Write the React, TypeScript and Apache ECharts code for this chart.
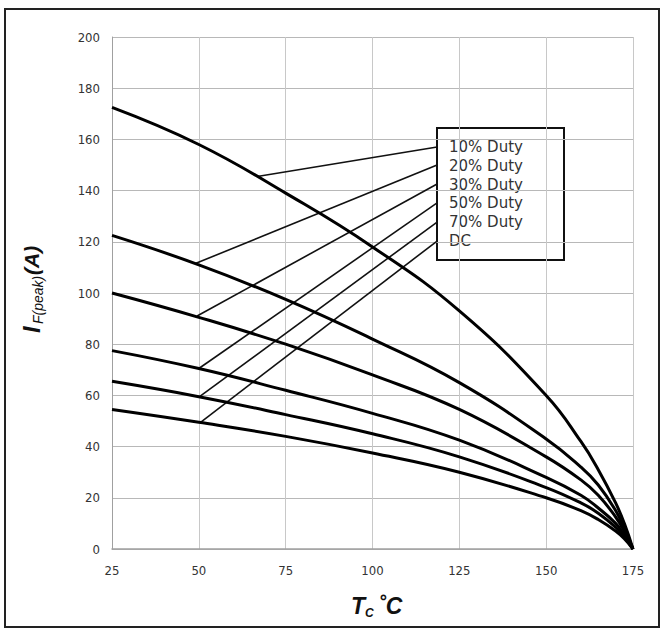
import React, { useEffect, useRef } from "react";
import * as echarts from "echarts";

const temps = [25, 50, 75, 100, 125, 150, 160, 165, 170, 172.5, 175];
const duty10 = [172.5, 158, 139, 118, 93, 60, 42, 31, 18, 10, 0];
const duty20 = [122.5, 111, 97.5, 82, 65, 43, 32, 25, 15, 8, 0];
const duty30 = [100, 90.5, 80, 68, 54.5, 36, 27, 21, 12.5, 7, 0];
const duty50 = [77.5, 70.5, 62, 53, 42.5, 28, 21, 16, 10, 5.5, 0];
const duty70 = [65.5, 59.5, 52.5, 45, 36, 24, 18, 14, 8.5, 4.8, 0];
const dutyDC = [54.5, 49.5, 44, 37.5, 30, 20, 15, 11.5, 7, 4, 0];

const seriesNames = ["10% Duty", "20% Duty", "30% Duty", "50% Duty", "70% Duty", "DC"];
const seriesData = [duty10, duty20, duty30, duty50, duty70, dutyDC];

// leader lines: start on each curve (T, I), end at legend rows (T, I)
const leaderStartT = [66.8, 49, 49.5, 50, 50.2, 50.5];
const leaderStartI = [145.5, 111.5, 91, 70.5, 59.5, 49.5];
const leaderEndT = [118.6, 118.6, 118.6, 118.6, 118.6, 118.6];
const leaderEndI = [157, 150, 142.6, 135.2, 127.7, 120.3];

const xTicks = [25, 50, 75, 100, 125, 150, 175];
const yTicks = [0, 20, 40, 60, 80, 100, 120, 140, 160, 180, 200];

export default function App() {
  const ref = useRef<HTMLDivElement>(null);
  useEffect(() => {
    if (!ref.current) return;
    const chart = echarts.init(ref.current, undefined, { renderer: "svg" });
    const labelFont = "'Liberation Sans Narrow', 'DejaVu Sans Condensed', 'Roboto', sans-serif";
    const curves = seriesData.map((d, i) => ({
      name: seriesNames[i],
      type: "line",
      data: temps.map((t, j) => [t, d[j]]),
      smooth: 0.45,
      showSymbol: false,
      symbol: "none",
      lineStyle: { color: "#000", width: 3 },
      z: 3,
    }));
    const leaders = seriesNames.map((n, i) => ({
      name: n + " leader",
      type: "line",
      data: [
        [leaderStartT[i], leaderStartI[i]],
        [leaderEndT[i], leaderEndI[i]],
      ],
      showSymbol: false,
      symbol: "none",
      lineStyle: { color: "#111", width: 1.6 },
      z: 2,
    }));
    chart.setOption({
      animation: false,
      backgroundColor: "#fff",
      grid: { left: 112, right: 30, top: 37, bottom: 81 },
      xAxis: {
        type: "value",
        min: 25,
        max: 175,
        interval: 25,
        axisLine: { show: true, onZero: false, lineStyle: { color: "#a0a0a0", width: 1.5 } },
        axisTick: { show: false },
        splitLine: { show: true, lineStyle: { color: "#c8c8c8", width: 1 } },
        axisLabel: {
          color: "#333",
          fontSize: 13,
          fontFamily: labelFont,
          margin: 15,
          formatter: (v: number) => (xTicks.includes(v) ? String(v) : ""),
        },
      },
      yAxis: {
        type: "value",
        min: 0,
        max: 200,
        interval: 20,
        axisLine: { show: true, lineStyle: { color: "#a0a0a0", width: 1 } },
        axisTick: { show: false },
        splitLine: { show: true, lineStyle: { color: "#b8b8b8", width: 1 } },
        axisLabel: {
          color: "#333",
          fontSize: 13,
          fontFamily: labelFont,
          margin: 12,
          formatter: (v: number) => (yTicks.includes(v) ? String(v) : ""),
        },
      },
      series: [...curves, ...leaders],
      graphic: [
        {
          type: "rect",
          shape: { x: 5, y: 9, width: 654, height: 618 },
          style: { fill: "none", stroke: "#222", lineWidth: 2 },
          silent: true,
          z: 10,
        },
        {
          type: "group",
          z: 20,
          children: [
            {
              type: "rect",
              shape: { x: 437, y: 128, width: 127, height: 132 },
              style: { fill: "#fff", stroke: "#111", lineWidth: 2 },
            },
            ...seriesNames.map((n, i) => ({
              type: "text",
              x: 449,
              y: 147 + i * 18.8,
              style: {
                text: n,
                fill: "#333",
                font: "15px 'DejaVu Sans', sans-serif",
                verticalAlign: "middle",
              },
            })),
          ],
        },
        {
          type: "group",
          x: 31,
          y: 285,
          rotation: Math.PI / 2,
          children: [
            {
              type: "text",
              x: -48,
              y: 0,
              style: {
                text: "I",
                fill: "#111",
                font: "italic bold 24px 'Liberation Sans', Arial, sans-serif",
                verticalAlign: "middle",
              },
            },
            {
              type: "text",
              x: -39,
              y: 7,
              style: {
                text: "F(peak)",
                fill: "#111",
                font: "italic 14px 'Liberation Sans Narrow', 'Liberation Sans', sans-serif",
                verticalAlign: "middle",
              },
            },
            {
              type: "text",
              x: 10,
              y: 0,
              style: {
                text: "(A)",
                fill: "#111",
                font: "italic bold 21px 'Liberation Sans', Arial, sans-serif",
                verticalAlign: "middle",
              },
            },
          ],
        },
        {
          type: "group",
          x: 373,
          y: 606,
          children: [
            {
              type: "text",
              x: -22,
              y: 0,
              style: {
                text: "T",
                fill: "#111",
                font: "italic bold 23px 'Liberation Sans', Arial, sans-serif",
                verticalAlign: "middle",
              },
            },
            {
              type: "text",
              x: -8,
              y: 7,
              style: {
                text: "C",
                fill: "#111",
                font: "italic bold 12px 'Liberation Sans', Arial, sans-serif",
                verticalAlign: "middle",
              },
            },
            {
              type: "text",
              x: 5,
              y: 0,
              style: {
                text: "˚C",
                fill: "#111",
                font: "italic bold 23px 'Liberation Sans', Arial, sans-serif",
                verticalAlign: "middle",
              },
            },
          ],
        },
      ],
    });
    return () => chart.dispose();
  }, []);
  return (
    <div
      ref={ref}
      style={{ position: "fixed", left: 0, top: 0, width: 663, height: 630, background: "#fff" }}
    />
  );
}
